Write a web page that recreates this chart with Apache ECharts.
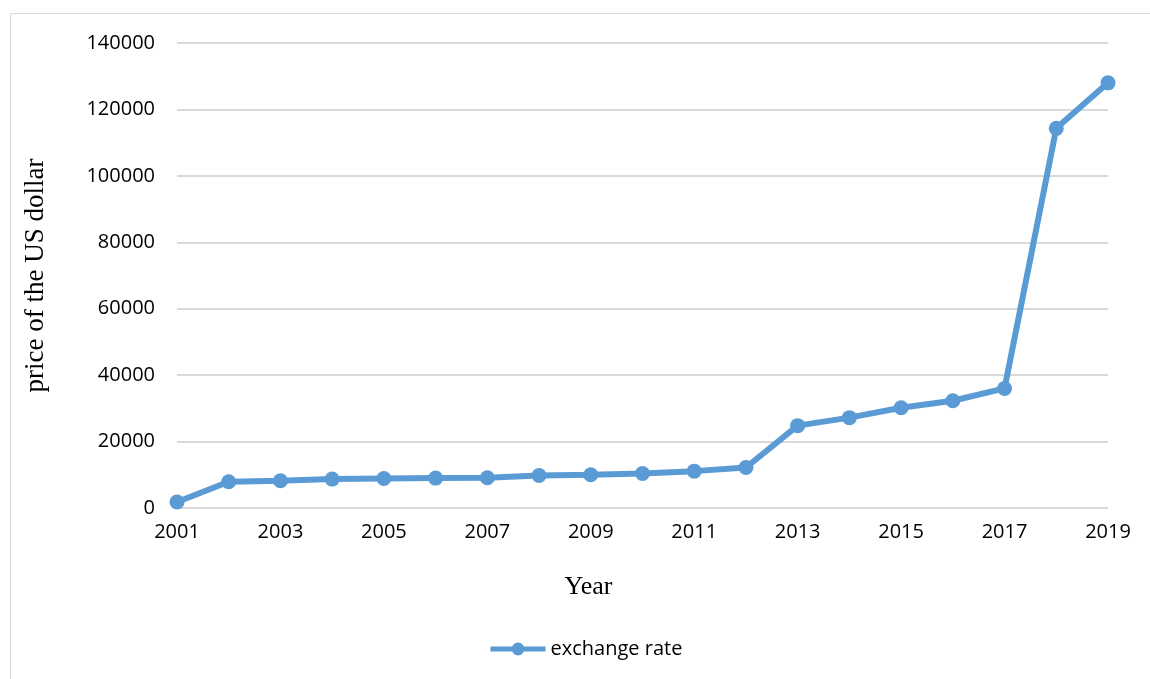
<!DOCTYPE html>
<html>
<head>
<meta charset="utf-8">
<script src="https://cdn.jsdelivr.net/npm/echarts@6/dist/echarts.min.js"></script>
<style>
  html, body { margin: 0; padding: 0; background: #fff; }
  #chart { width: 1150px; height: 679px; }
</style>
</head>
<body>
<div id="chart"></div>
<script>
// years on the x axis
const years = ['2001', '2002', '2003', '2004', '2005', '2006', '2007', '2008', '2009', '2010',
  '2011', '2012', '2013', '2014', '2015', '2016', '2017', '2018', '2019']
// price of one US dollar
const exchangeRate = [1800, 7900, 8200, 8700, 8900, 9000, 9100, 9800, 10000, 10400,
  11100, 12200, 24800, 27200, 30200, 32300, 36000, 114300, 128000]

const seriesName = 'exchange rate'
const lineColor = '#5B9BD5'

let myChart = echarts.init(document.getElementById('chart'))

let option = {
  animation: false,
  color: [lineColor],
  graphic: [
    {
      type: 'rect',
      shape: { x: 10.5, y: 13.5, width: 1160, height: 700 },
      style: { fill: 'none', stroke: '#d9d9d9', lineWidth: 1 }
    }
  ],
  grid: {
    left: 177,
    right: 42,
    top: 43,
    bottom: 171
  },
  legend: {
    data: [seriesName],
    left: 483,
    top: 634,
    itemWidth: 55,
    itemHeight: 16,
    textStyle: {
      fontFamily: 'Open Sans',
      fontSize: 20,
      color: '#000'
    },
    lineStyle: { width: 5 }
  },
  xAxis: {
    type: 'category',
    boundaryGap: false,
    data: years,
    name: 'Year',
    nameLocation: 'middle',
    nameGap: 66,
    nameTextStyle: {
      fontFamily: 'Liberation Serif',
      fontSize: 26,
      color: '#000',
      // excel centres the title on the whole chart, not the plot
      padding: [0, 108, 0, 0]
    },
    axisTick: { show: false },
    axisLine: { show: false },
    axisLabel: {
      interval: 1,
      margin: 14,
      fontFamily: 'Open Sans',
      fontSize: 20,
      color: '#000'
    }
  },
  yAxis: {
    type: 'value',
    min: 0,
    max: 140000,
    interval: 20000,
    name: 'price of the US dollar',
    nameLocation: 'middle',
    nameGap: 128,
    nameTextStyle: {
      fontFamily: 'Liberation Serif',
      fontSize: 27,
      color: '#000'
    },
    axisLine: { show: false },
    axisTick: { show: false },
    splitLine: {
      lineStyle: { color: '#d9d9d9', width: 2 }
    },
    axisLabel: {
      margin: 22,
      formatter: (v) => String(v),
      fontFamily: 'Open Sans',
      fontSize: 20,
      color: '#000'
    }
  },
  series: [
    {
      name: seriesName,
      type: 'line',
      data: exchangeRate,
      symbol: 'circle',
      symbolSize: 15,
      lineStyle: { width: 6, color: lineColor },
      itemStyle: { color: lineColor }
    }
  ]
}

myChart.setOption(option)
</script>
</body>
</html>
